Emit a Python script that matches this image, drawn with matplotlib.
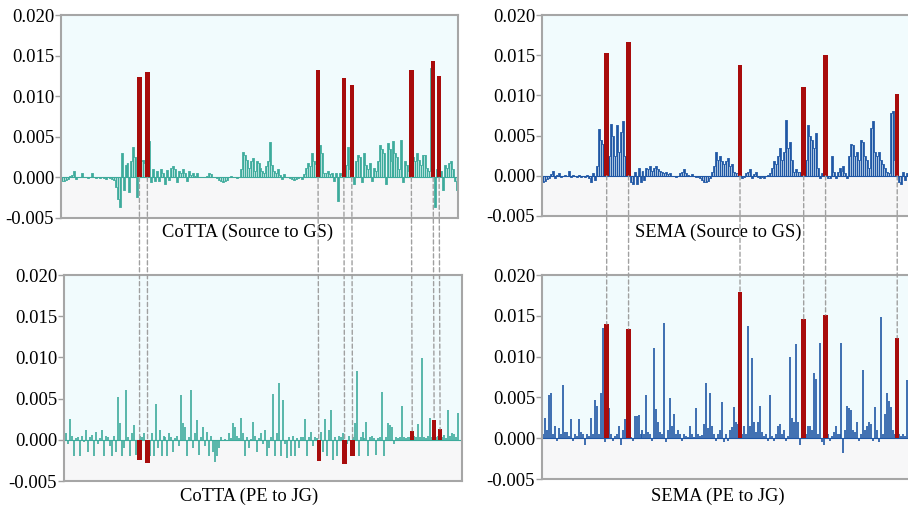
import numpy as np
import matplotlib
matplotlib.use('Agg')
import matplotlib.pyplot as plt
from matplotlib.patches import ConnectionPatch

plt.rcParams['font.family'] = ['Liberation Serif', 'DejaVu Serif']

# per-token values, in units of 1e-4
cotta_src_gs = [
    -5, -4, -3, -2, 2, 3, 8, -2, 1, 0,
    6, 0, 1, -1, 0, 6, 0, -1, 0, -1,
    1, -1, -2, 0, -1, -2, -3, -12, -27, -37,
    30, -15, 15, 18, -18, 20, 38, 25, -24, 35,
    20, 22, 18, 25, 45, -6, 10, -5, 8, -4,
    10, 6, -8, 9, -3, 12, 14, 10, -6, 8,
    6, 10, 5, -4, 8, 3, 6, 2, 5, 1,
    0, 0, 0, 2, 6, 4, 1, 0, -1, -3,
    -4, -6, -5, -3, 0, 2, 1, 0, -1, 0,
    10, 31, 28, 22, 12, 20, 24, 8, 20, 18,
    12, 8, 5, 14, 20, 44, 15, 8, 5, 10,
    3, -2, 4, 0, 1, -1, -2, -3, -2, -1,
    0, -2, 4, 12, 18, 14, 30, 20, 16, 15,
    40, 30, 6, 5, 8, 4, 6, -5, 5, -29,
    6, 3, 20, 15, 37, 10, 25, -8, 20, 28,
    25, -6, 30, 15, 10, 18, -5, 12, 8, 20,
    40, 35, 30, -8, 42, 35, 20, 45, 30, 25,
    10, 46, -6, 20, 15, 8, 18, 25, 20, 30,
    22, 15, 27, 28, 12, 8, 135, 20, -37, 10,
    12, 8, -16, 15, 12, 18, 20, 10, -5, -15,
]
cotta_pe_jg = [
    -20, 0, 8, -5, 25, 5, -20, 2, 3, -20,
    5, -3, 12, -15, 3, 6, -20, 10, -5, 2,
    12, -20, 5, 3, -8, -20, 5, -15, 52, 20,
    -20, -10, 61, 4, -20, 8, 18, -18, -10, 5,
    3, 8, -5, -10, -20, 8, -20, 44, -10, 12,
    -20, 5, 3, -20, 8, 4, -15, 2, 5, -8,
    54, 20, 15, -20, 3, 60, -10, 8, 24, -18,
    3, 15, -8, 10, -20, 5, -15, -27, -20, -10,
    3, 0, 1, 0, 8, 2, 20, 15, 5, 2,
    27, 8, -20, 3, -10, 1, 22, 5, -15, 2,
    8, -5, 12, -20, -10, 4, 55, -20, 8, 69,
    -20, 48, -5, -22, 3, -20, 5, -20, 2, -10,
    3, 4, 25, -20, 3, 10, -8, 4, 2, -12,
    10, -15, 25, -20, 12, 36, -25, 3, -20, 5,
    3, 8, -10, -5, 5, -12, 4, 20, 83, -20,
    3, 10, 2, 22, -20, 4, 5, 2, -18, 2,
    4, 58, -20, 3, 20, 18, 15, -5, 3, 2,
    4, 41, 3, 2, 4, 3, 4, 5, 3, 19,
    4, 99, 3, 2, 5, 27, 4, 8, 3, 5,
    4, 3, 6, 2, 36, 5, 8, 7, 3, 32,
]
sema_src_gs = [
    -8, -6, -4, -3, 2, 6, -3, 1, 4, -2,
    0, 1, 0, 6, -2, 1, 0, -1, 1, -1,
    0, -2, 1, -3, -8, 3, -5, 12, 58, 45,
    40, 20, 30, 25, 65, 50, 25, 63, 30, 55,
    68, 25, 65, 35, -8, -10, 5, -10, 10, -8,
    6, -5, 10, 8, 12, 6, 10, 12, 8, 6,
    5, 4, 5, 2, 4, 0, 0, -1, 0, 3,
    5, 8, 3, 1, 0, 2, 0, -1, -2, -3,
    -5, -8, -8, -6, -3, 5, 12, 30, 20, 25,
    18, 15, 18, 22, 12, 15, 5, 4, 3, 2,
    -3, -2, 3, 5, 8, -3, 2, 5, -2, -3,
    -2, -3, 0, 1, 3, 10, 18, 15, 25, 35,
    20, 30, 70, 35, 42, 20, 5, 8, 5, 5,
    3, 10, 20, 63, 50, 45, 35, 53, 10, -3,
    3, 8, 5, -3, -3, 25, 5, -3, 5, 10,
    6, 12, 3, -3, 25, 40, 38, 25, 30, 20,
    45, 42, 25, 20, 10, 60, 68, 30, 25, 30,
    20, 15, 10, 5, 3, 78, 80, 20, 10, -8,
    -10, 5, -5, 3, 4, -3, 5, 2, -2, 6,
    3, -4, 2, 5, -1, 3, 0, 2, -2, 1,
]
sema_pe_jg = [
    5, 25, 10, 53, 55, 5, 15, -3, 12, 5,
    65, 8, 8, 3, 23, -3, 5, 3, 23, 8,
    5, -8, 5, 3, 25, 5, 47, 40, 5, 55,
    135, -5, 5, 37, 5, -3, 3, 5, 15, -8,
    10, 23, 5, 0, 2, -3, 27, 27, 28, 5,
    10, 5, 53, 8, 5, -3, 111, 36, 20, 8,
    5, 141, -5, 10, 49, 15, 30, 5, 10, 5,
    -3, 5, 3, 2, 15, 5, 2, 37, 5, 3,
    4, 18, 68, 12, 55, 15, 5, -3, 5, 10,
    44, -5, 5, -3, 10, 14, 38, 20, 18, 10,
    5, 15, 5, 138, 15, 98, 20, 8, 20, 40,
    8, 3, 5, -3, 53, 3, -3, 5, 15, 18,
    5, 10, -3, 3, 99, 25, 20, 115, 20, -8,
    5, 8, 5, 15, 15, 10, 80, 73, 5, 117,
    -5, -8, 10, 5, -3, 3, 8, 15, 5, 5,
    117, -18, 10, 40, 37, 35, 10, 8, 20, -3,
    5, 83, 10, 15, 20, 18, -3, 38, 10, -5,
    148, 5, 30, 56, 45, 38, 10, 5, 22, 5,
    3, 5, 3, 71, 4, 2, 10, 5, -2, 6,
    3, 12, 4, -3, 5, 8, 2, 4, 6, 3,
]

# highlighted tokens (red) and their values
cotta_hi_idx = [39, 43, 129, 142, 146, 176, 187, 190]
cotta_src_hi = [0.0124, 0.0130, 0.0132, 0.0123, 0.0114, 0.0132, 0.0143, 0.0125]
cotta_pe_hi = [-0.0024, -0.0028, -0.0026, -0.0029, -0.0020, 0.0011, 0.0024, 0.0013]
sema_hi_idx = [32, 43, 99, 131, 142, 178]
sema_src_hi = [0.0153, 0.0167, 0.0138, 0.0110, 0.0150, 0.0102]
sema_pe_hi = [0.0140, 0.0134, 0.0179, 0.0146, 0.0151, 0.0123]

TEAL = '#3dab9c'
BLUE = '#1f57a5'
RED = '#a80c0c'


def draw_panel(ax, vals, color, hi_idx, hi_vals, shift=0.0, joined=False):
    x = np.arange(len(vals))
    v = np.array(vals) * 1e-4
    ax.axhspan(0, 0.02, color='#f1fbfd', zorder=0)
    ax.axhspan(-0.005, 0, color='#f7f7f8', zorder=0)
    ax.axhline(0, color=color, lw=0.8, zorder=1.5)
    ax.vlines(x, 0, v, color=color, lw=1.2 if not joined else 1.0, zorder=2)
    if joined:
        ax.plot(x, v, color=color, lw=0.6, drawstyle='steps-mid', zorder=2)
    ax.bar(hi_idx, hi_vals, width=2.2, color=RED, zorder=3)
    ax.set_xlim(-0.5 + shift, len(vals) - 0.5 + shift)
    ax.set_ylim(-0.005, 0.020)
    ticks = [-0.005, 0.0, 0.005, 0.010, 0.015, 0.020]
    ax.set_yticks(ticks, [f'{t:.3f}' for t in ticks])
    ax.set_xticks([])
    ax.tick_params(axis='y', length=4, width=1, color='#a0a0a0',
                   labelsize=13.5, pad=1)
    for s in ax.spines.values():
        s.set_color('#a6a6a6')
        s.set_linewidth(1.5)


W, H = 908, 508
fig = plt.figure(figsize=(W / 100, H / 100), dpi=100)


def box(l, r, t, b):
    return [l / W, 1 - b / H, (r - l) / W, (b - t) / H]


ax_tl = fig.add_axes(box(61, 458, 15, 218))
ax_bl = fig.add_axes(box(64, 462, 275, 481))
ax_tr = fig.add_axes(box(542, 940, 15, 216))
ax_br = fig.add_axes(box(542, 940, 275, 479))

draw_panel(ax_tl, cotta_src_gs, TEAL, cotta_hi_idx, cotta_src_hi, joined=True)
draw_panel(ax_bl, cotta_pe_jg, TEAL, cotta_hi_idx, cotta_pe_hi, shift=1.5)
draw_panel(ax_tr, sema_src_gs, BLUE, sema_hi_idx, sema_src_hi, joined=True)
draw_panel(ax_br, sema_pe_jg, BLUE, sema_hi_idx, sema_pe_hi)

# dashed guides linking the same tokens across the two domains
for top, bot, idx, hb in [(ax_tl, ax_bl, cotta_hi_idx, cotta_pe_hi),
                          (ax_tr, ax_br, sema_hi_idx, sema_pe_hi)]:
    for i, vb in zip(idx, hb):
        con = ConnectionPatch(xyA=(i, 0), coordsA=top.transData,
                              xyB=(i, max(vb, 0)), coordsB=bot.transData,
                              color='#a0a0a0', lw=1, linestyle=(0, (3, 2)),
                              zorder=5)
        fig.add_artist(con)

for x, y, t in [(248, 232, 'CoTTA (Source to GS)'), (249, 496, 'CoTTA (PE to JG)'),
                (718, 232, 'SEMA (Source to GS)'), (718, 496, 'SEMA (PE to JG)')]:
    fig.text(x / W, 1 - y / H, t, ha='center', va='center', fontsize=13.3)

fig.savefig('out.png', dpi=100)
